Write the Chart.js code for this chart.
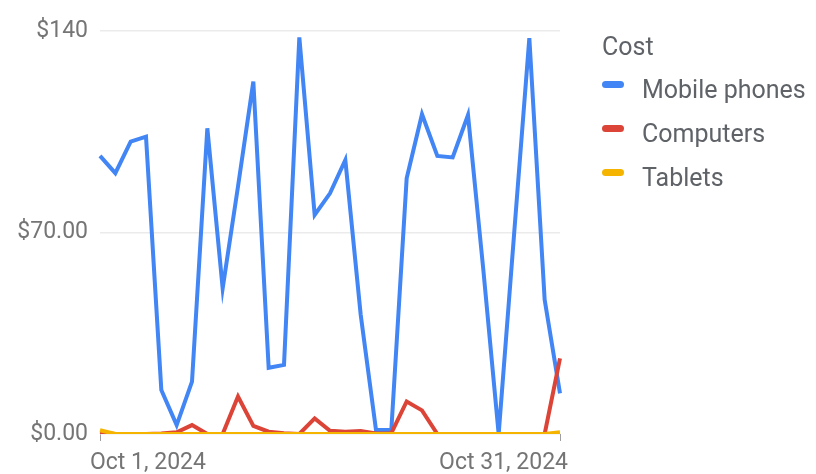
<!DOCTYPE html>
<html>
<head>
<meta charset="utf-8">
<script src="https://cdn.jsdelivr.net/npm/chart.js@4.4.1/dist/chart.umd.min.js"></script>
<style>
  html, body { margin: 0; padding: 0; background: #fff; }
  #wrap { position: relative; width: 816px; height: 474px; font-family: Roboto, sans-serif; }
  #legend { position: absolute; left: 602px; top: 30px; color: #5f6368; }
  #legend .title { font-size: 25px; height: 34px; line-height: 34px; margin-bottom: 4px; }
  #legend .item { height: 44px; line-height: 44px; font-size: 25px; white-space: nowrap; }
  #legend .mark { display: inline-block; width: 22px; height: 7px; border-radius: 4px; vertical-align: middle; margin-right: 18px; position: relative; top: -7px; }
</style>
</head>
<body>
<div id="wrap">
  <canvas id="costChart" width="816" height="474"></canvas>
  <div id="legend"></div>
</div>
<script>
const days = [
  "Oct 1, 2024", "Oct 2, 2024", "Oct 3, 2024", "Oct 4, 2024", "Oct 5, 2024",
  "Oct 6, 2024", "Oct 7, 2024", "Oct 8, 2024", "Oct 9, 2024", "Oct 10, 2024",
  "Oct 11, 2024", "Oct 12, 2024", "Oct 13, 2024", "Oct 14, 2024", "Oct 15, 2024",
  "Oct 16, 2024", "Oct 17, 2024", "Oct 18, 2024", "Oct 19, 2024", "Oct 20, 2024",
  "Oct 21, 2024", "Oct 22, 2024", "Oct 23, 2024", "Oct 24, 2024", "Oct 25, 2024",
  "Oct 26, 2024", "Oct 27, 2024", "Oct 28, 2024", "Oct 29, 2024", "Oct 30, 2024",
  "Oct 31, 2024"
];
const mobilePhones = [
  96.6, 90.6, 101.6, 103.3, 15.3, 3.1, 18.2, 106.2, 50.6, 86, 122.4,
  23.0, 24.0, 137.8, 76.1, 83.6, 95.2, 41.5, 1.4, 1.4, 88.8,
  111.1, 96.6, 96.1, 110.8, 57, 0, 69, 137.5, 46.6, 14.1
];
const computers = [
  0.5, 0, 0, 0, 0.2, 0.6, 3.1, 0, 0, 13.0, 2.8,
  0.8, 0.3, 0, 5.4, 1.1, 0.8, 1.0, 0.2, 0.3, 11.3,
  8.2, 0, 0, 0, 0, 0, 0, 0, 0, 26.3
];
const tablets = [
  1.3, 0, 0, 0, 0, 0, 0, 0, 0, 0, 0,
  0, 0, 0, 0, 0, 0, 0, 0, 0, 0,
  0, 0, 0, 0, 0, 0, 0, 0, 0, 0.6
];
const yTicks = [0, 70, 140];
const yTickLabels = ["$0.00", "$70.00", "$140"];
const seriesNames = ["Mobile phones", "Computers", "Tablets"];
const seriesColors = ["#4285f4", "#db4437", "#f4b400"];
const legendTitle = "Cost";

const allSeries = [mobilePhones, computers, tablets];

// draw order: tablets on top, like the reference
let datasets = [];
for (let i = 0; i < allSeries.length; i++) {
  datasets.push({
    label: seriesNames[i],
    data: allSeries[i],
    borderColor: seriesColors[i],
    backgroundColor: seriesColors[i],
    borderWidth: 4,
    pointRadius: 0,
    fill: false,
    tension: 0,
    order: allSeries.length - i,
  });
}

// first and last date under the axis, pushed a little outward from their ticks
const edgeLabels = {
  id: "edgeLabels",
  afterDraw: function (chart) {
    let x = chart.scales.x;
    let ctx = chart.ctx;
    let last = days.length - 1;
    ctx.save();
    ctx.fillStyle = "#757575";
    ctx.font = "23px Roboto";
    ctx.textBaseline = "alphabetic";
    ctx.textAlign = "left";
    ctx.fillText(days[0], x.getPixelForValue(0) - 10, 469);
    ctx.textAlign = "right";
    ctx.fillText(days[last], x.getPixelForValue(last) + 8, 469);
    ctx.restore();
  },
};

new Chart(document.getElementById("costChart"), {
  type: "line",
  data: { labels: days, datasets: datasets },
  plugins: [edgeLabels],
  options: {
    responsive: false,
    animation: false,
    layout: { padding: { top: 31, right: 256, left: 0, bottom: 0 } },
    plugins: { legend: { display: false }, tooltip: { enabled: false } },
    scales: {
      x: {
        offset: false,
        grid: {
          drawOnChartArea: false,
          drawTicks: true,
          tickLength: 7,
          color: function (ctx) {
            return ctx.index === 0 || ctx.index === days.length - 1 ? "#9e9e9e" : "transparent";
          },
        },
        border: { display: false },
        ticks: { display: false, autoSkip: false },
        afterFit: function (scale) {
          scale.height = 40;
        },
      },
      y: {
        min: 0,
        max: 140,
        afterBuildTicks: function (scale) {
          scale.ticks = yTicks.map(function (v) { return { value: v }; });
        },
        grid: { color: "#ebebeb", lineWidth: 1.5, drawTicks: false },
        border: { display: false },
        ticks: {
          padding: 12,
          color: "#757575",
          font: { family: "Roboto", size: 23 },
          callback: function (value) {
            return yTickLabels[yTicks.indexOf(value)];
          },
        },
        afterFit: function (scale) {
          scale.width = 100;
        },
      },
    },
  },
});

// legend as html next to the plot
let legendHtml = "<div class='title'>" + legendTitle + "</div>";
for (let i = 0; i < seriesNames.length; i++) {
  legendHtml += "<div class='item'><span class='mark' style='background:" + seriesColors[i] + "'></span>" + seriesNames[i] + "</div>";
}
document.getElementById("legend").innerHTML = legendHtml;
</script>
</body>
</html>
